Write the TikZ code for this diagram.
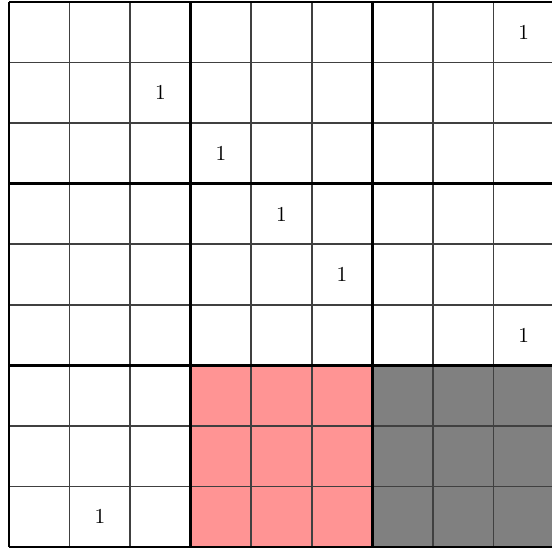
\documentclass[tikz,border=0pt]{standalone}
\usepackage{tikz}
\usetikzlibrary{positioning}
\definecolor{blockred}{RGB}{255, 148, 148}
\definecolor{blockgray}{RGB}{128, 128, 128}

\begin{document}
\begin{tikzpicture}[
    thinline/.style={draw=black!75, line width=0.7pt},
    thickline/.style={draw=black, line width=1.2pt},
    digit/.style={font=\normalsize}
]
    \useasboundingbox (-0.149,-0.083) rectangle (8.96,9.033);
    \fill[blockred] (3,0) rectangle (6,3);
    \fill[blockgray] (6,0) rectangle (9,3);

    \foreach \i in {1,2,4,5,7,8} {
        \draw[thinline] (\i,0) -- (\i,9);
        \draw[thinline] (0,\i) -- (9,\i);
    }
    \foreach \i in {0,3,6,9} {
        \draw[thickline] (\i,0) -- (\i,9);
        \draw[thickline] (0,\i) -- (9,\i);
    }

    \node[digit] (r1c9) at (8.5,8.5) {1};
    \node[digit] (r2c3) at (2.5,7.5) {1};
    \node[digit] (r3c4) at (3.5,6.5) {1};
    \node[digit] (r4c5) at (4.5,5.5) {1};
    \node[digit] (r5c6) at (5.5,4.5) {1};
    \node[digit] (r6c9) at (8.5,3.5) {1};
    \node[digit] (r9c2) at (1.5,0.5) {1};
\end{tikzpicture}
\end{document}
